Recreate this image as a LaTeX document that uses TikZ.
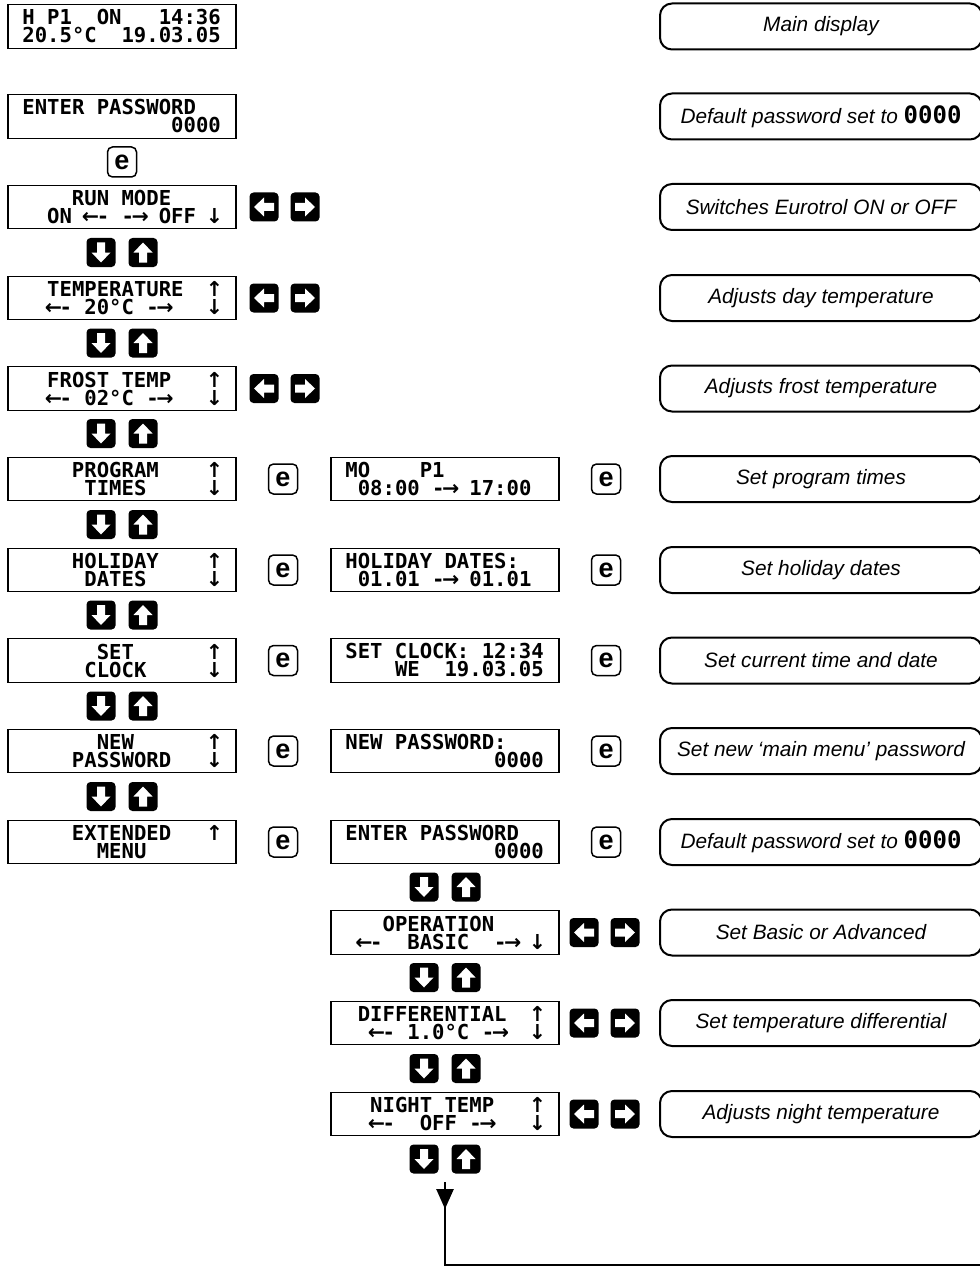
\documentclass[tikz,border=0pt]{standalone}
\usepackage{fontspec}
\usepackage{tikz}
\usetikzlibrary{arrows.meta}
\setmainfont{Liberation Sans}
\newfontfamily\lcdfont{DejaVu Sans Mono}
\newfontfamily\arrowfont{DejaVu Sans}
\newlength{\lcdch}
\setlength{\lcdch}{6.2pt}
\newcommand{\lpad}[1]{\hspace*{#1\lcdch}}
\newcommand{\ua}{{\arrowfont ↑}}
\newcommand{\da}{{\arrowfont ↓}}
\newcommand{\la}{{\arrowfont ←}}
\newcommand{\ra}{{\arrowfont →}}
\makeatletter
\newcommand{\lcdrow}[1]{\@tfor\lcd@c:=#1\do{\makebox[\lcdch][c]{\lcd@c}}}
\makeatother

\begin{document}
\begin{tikzpicture}[x=0.5pt, y=-0.5pt,
  lcd/.style={draw, line width=0.6pt, minimum width=114pt, minimum height=21.75pt,
    text width=99.6pt, inner xsep=7.2pt, inner ysep=0pt, align=left,
    font=\lcdfont\bfseries\fontsize{10.3}{9}\selectfont},
  desc/.style={draw, line width=1pt, rounded corners=6pt, minimum width=161pt,
    minimum height=23pt, inner sep=0pt, font=\itshape\fontsize{10.4}{12}\selectfont},
  ebtn/.style={draw, line width=0.75pt, fill=white, rounded corners=2.5pt,
    minimum width=14.5pt, minimum height=15pt, inner sep=0pt,
    font=\bfseries\fontsize{13.5}{13.5}\selectfont},
  keybtn/.style={fill=black, rounded corners=2pt, minimum width=14.5pt,
    minimum height=14.5pt, inner sep=0pt,
    path picture={\fill[white, sharp corners, shift={(path picture bounding box.center)}] #1;}},
  dnkey/.style={keybtn={(-4,-10) -- (4,-10) -- (4,0) -- (9.5,0) -- (0,10) -- (-9.5,0) -- (-4,0) -- cycle}},
  upkey/.style={keybtn={(-4,10) -- (4,10) -- (4,0) -- (9.5,0) -- (0,-10) -- (-9.5,0) -- (-4,0) -- cycle}},
  lkey/.style={keybtn={(10,-4) -- (10,4) -- (0,4) -- (0,9.5) -- (-10,0) -- (0,-9.5) -- (0,-4) -- cycle}},
  rkey/.style={keybtn={(-10,-4) -- (-10,4) -- (0,4) -- (0,9.5) -- (10,0) -- (0,-9.5) -- (0,-4) -- cycle}},
  loopline/.style={line width=1.3pt}]
\path[use as bounding box, fill=white] (0,0) rectangle (979,1273);

% 左の列:メインメニュー
\node[lcd] (lcdMain) at (122,26.5) {\lcdrow{H~P1~~ON~~~14:36}\\\lcdrow{20.5°C~~19.03.05}};
\node[lcd] (lcdPwd) at (122,116.5) {\lcdrow{ENTER~PASSWORD}\\\lpad{12}\lcdrow{0000}};
\node[ebtn] (eTop) at (122,162) {e};
\node[lcd] (lcdRun) at (122,207) {\lpad{4}\lcdrow{RUN~MODE}\\\lpad{2}\lcdrow{ON~\la-~-\ra~OFF~\da}};
\node[lcd] (lcdTemp) at (122,298) {\lpad{2}\lcdrow{TEMPERATURE~~\ua}\\\lpad{2}\lcdrow{\la-~20°C~-\ra~~~\da}};
\node[lcd] (lcdFrost) at (122,388.5) {\lpad{2}\lcdrow{FROST~TEMP~~~\ua}\\\lpad{2}\lcdrow{\la-~02°C~-\ra~~~\da}};
\node[lcd] (lcdProg) at (122,479) {\lpad{4}\lcdrow{PROGRAM~~~~\ua}\\\lpad{5}\lcdrow{TIMES~~~~~\da}};
\node[lcd] (lcdHol) at (122,570) {\lpad{4}\lcdrow{HOLIDAY~~~~\ua}\\\lpad{5}\lcdrow{DATES~~~~~\da}};
\node[lcd] (lcdClock) at (122,660.5) {\lpad{6}\lcdrow{SET~~~~~~\ua}\\\lpad{5}\lcdrow{CLOCK~~~~~\da}};
\node[lcd] (lcdNewPw) at (122,751) {\lpad{6}\lcdrow{NEW~~~~~~\ua}\\\lpad{4}\lcdrow{PASSWORD~~~\da}};
\node[lcd] (lcdExt) at (122,842) {\lpad{4}\lcdrow{EXTENDED~~~\ua}\\\lpad{6}\lcdrow{MENU}};

% 上下キー(左の列)
\node[dnkey] (dnRun) at (101,252.5) {};   \node[upkey] (upRun) at (143,252.5) {};
\node[dnkey] (dnTemp) at (101,343) {};    \node[upkey] (upTemp) at (143,343) {};
\node[dnkey] (dnFrost) at (101,433.5) {}; \node[upkey] (upFrost) at (143,433.5) {};
\node[dnkey] (dnProg) at (101,524.5) {};  \node[upkey] (upProg) at (143,524.5) {};
\node[dnkey] (dnHol) at (101,615) {};     \node[upkey] (upHol) at (143,615) {};
\node[dnkey] (dnClock) at (101,706) {};   \node[upkey] (upClock) at (143,706) {};
\node[dnkey] (dnNewPw) at (101,796.5) {}; \node[upkey] (upNewPw) at (143,796.5) {};

% 左右キー(左の列)
\node[lkey] (lRun) at (264,207) {};     \node[rkey] (rRun) at (305,207) {};
\node[lkey] (lTemp) at (264,298) {};    \node[rkey] (rTemp) at (305,298) {};
\node[lkey] (lFrost) at (264,388.5) {}; \node[rkey] (rFrost) at (305,388.5) {};

% e キー
\node[ebtn] (eProgA) at (283,479) {e};   \node[ebtn] (eProgB) at (606,479) {e};
\node[ebtn] (eHolA) at (283,570) {e};    \node[ebtn] (eHolB) at (606,570) {e};
\node[ebtn] (eClockA) at (283,660.5) {e}; \node[ebtn] (eClockB) at (606,660.5) {e};
\node[ebtn] (eNewPwA) at (283,751) {e};  \node[ebtn] (eNewPwB) at (606,751) {e};
\node[ebtn] (eExtA) at (283,842) {e};    \node[ebtn] (eExtB) at (606,842) {e};

% 右の列:設定画面と拡張メニュー
\node[lcd] (setProg) at (445,479) {\lcdrow{MO~~~~P1}\\\lpad{1}\lcdrow{08:00~-\ra~17:00}};
\node[lcd] (setHol) at (445,570) {\lcdrow{HOLIDAY~DATES:}\\\lpad{1}\lcdrow{01.01~-\ra~01.01}};
\node[lcd] (setClock) at (445,660.5) {\lcdrow{SET~CLOCK:~12:34}\\\lpad{4}\lcdrow{WE~~19.03.05}};
\node[lcd] (setNewPw) at (445,751) {\lcdrow{NEW~PASSWORD:}\\\lpad{12}\lcdrow{0000}};
\node[lcd] (extPwd) at (445,842) {\lcdrow{ENTER~PASSWORD}\\\lpad{12}\lcdrow{0000}};
\node[lcd] (lcdOper) at (445,932.5) {\lpad{3}\lcdrow{OPERATION}\\\lpad{1}\lcdrow{\la-~~BASIC~~-\ra~\da}};
\node[lcd] (lcdDiff) at (445,1023) {\lpad{1}\lcdrow{DIFFERENTIAL~~\ua}\\\lpad{2}\lcdrow{\la-~1.0°C~-\ra~~\da}};
\node[lcd] (lcdNight) at (445,1114) {\lpad{2}\lcdrow{NIGHT~TEMP~~~\ua}\\\lpad{2}\lcdrow{\la-~~OFF~-\ra~~~\da}};

% 上下キーと左右キー(右の列)
\node[dnkey] (dnPwd) at (424,887) {};       \node[upkey] (upPwd) at (466,887) {};
\node[dnkey] (dnOper) at (424,977.5) {};    \node[upkey] (upOper) at (466,977.5) {};
\node[dnkey] (dnDiff) at (424,1068.5) {};   \node[upkey] (upDiff) at (466,1068.5) {};
\node[dnkey] (dnNight) at (424,1159) {};    \node[upkey] (upNight) at (466,1159) {};
\node[lkey] (lOper) at (584,932.5) {};  \node[rkey] (rOper) at (625,932.5) {};
\node[lkey] (lDiff) at (584,1023) {};   \node[rkey] (rDiff) at (625,1023) {};
\node[lkey] (lNight) at (584,1114) {};  \node[rkey] (rNight) at (625,1114) {};

% 説明
\node[desc] (dMain) at (821,26.5) {Main display};
\node[desc] (dPwd) at (821,116.5) {Default password set to {\upshape\lcdfont\bfseries\fontsize{12}{12}\selectfont 0000}};
\node[desc] (dRun) at (821,207) {Switches Eurotrol ON or OFF};
\node[desc] (dTemp) at (821,298) {Adjusts day temperature};
\node[desc] (dFrost) at (821,388.5) {Adjusts frost temperature};
\node[desc] (dProg) at (821,479) {Set program times};
\node[desc] (dHol) at (821,570) {Set holiday dates};
\node[desc] (dClock) at (821,660.5) {Set current time and date};
\node[desc] (dNewPw) at (821,751) {Set new ‘main menu’ password};
\node[desc] (dExtPwd) at (821,842) {Default password set to {\upshape\lcdfont\bfseries\fontsize{12}{12}\selectfont 0000}};
\node[desc] (dOper) at (821,932.5) {Set Basic or Advanced};
\node[desc] (dDiff) at (821,1023) {Set temperature differential};
\node[desc] (dNight) at (821,1114) {Adjusts night temperature};

% 戻りの線
\coordinate (loopTop) at (445,1182);
\coordinate (loopTip) at (445,1209);
\coordinate (loopEnd) at (983,1265);
\draw[loopline] (loopTop) |- (loopEnd);
\draw[loopline, -{Triangle[length=10pt, width=8.5pt]}] (loopTop) -- (loopTip);
\end{tikzpicture}
\end{document}
